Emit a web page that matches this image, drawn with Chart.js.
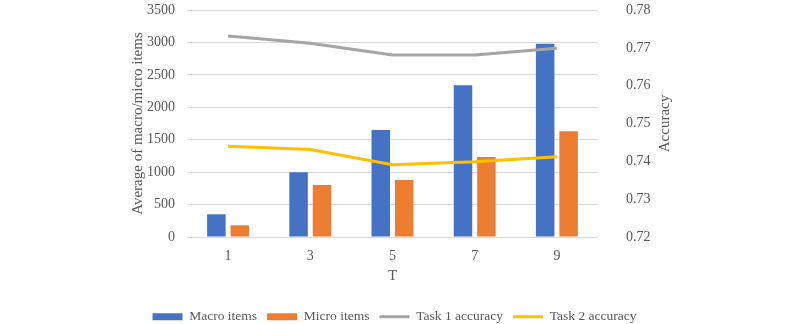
<!DOCTYPE html>
<html>
<head>
<meta charset="utf-8">
<script src="https://cdn.jsdelivr.net/npm/chart.js@4/dist/chart.umd.min.js"></script>
<style>
    html, body { margin: 0; padding: 0; background: #ffffff; }
</style>
</head>
<body>
<canvas id="itemsChart" width="800" height="324"></canvas>
<script>
const categories = ["1", "3", "5", "7", "9"];
const macroItems = [350, 1000, 1650, 2340, 2980];
const microItems = [180, 800, 880, 1235, 1630];
const task1Accuracy = [0.7731, 0.7712, 0.7681, 0.7681, 0.7699];
const task2Accuracy = [0.7440, 0.7431, 0.7391, 0.7399, 0.7412];

const textColor = "#595959";
const serif = "Liberation Serif";

// right axis title reads bottom-to-top in the original, so draw it by hand
const rightTitlePlugin = {
    id: "rightTitle",
    afterDraw(chart, args, options) {
        const { ctx, chartArea } = chart;
        ctx.save();
        ctx.translate(options.x, (chartArea.top + chartArea.bottom) / 2);
        ctx.rotate(-Math.PI / 2);
        ctx.fillStyle = textColor;
        ctx.font = `15px ${serif}`;
        ctx.textAlign = "center";
        ctx.textBaseline = "middle";
        ctx.fillText(options.text, 0, 0);
        ctx.restore();
    }
};

// fixed axis sizes; drop the label overhang padding so the plot keeps its height
const fixWidth = width => scale => {
    scale.width = width;
    scale.paddingTop = 0;
    scale.paddingBottom = 0;
};

new Chart(document.getElementById("itemsChart"), {
    type: "bar",
    data: {
        labels: categories,
        datasets: [
            {
                type: "bar",
                label: "Macro items",
                data: macroItems,
                backgroundColor: "#4472C4",
                yAxisID: "y",
                order: 2,
                categoryPercentage: 0.57,
                barPercentage: 0.79
            },
            {
                type: "bar",
                label: "Micro items",
                data: microItems,
                backgroundColor: "#ED7D31",
                yAxisID: "y",
                order: 2,
                categoryPercentage: 0.57,
                barPercentage: 0.79
            },
            {
                type: "line",
                label: "Task 1 accuracy",
                data: task1Accuracy,
                borderColor: "#A5A5A5",
                backgroundColor: "#A5A5A5",
                borderWidth: 3,
                pointRadius: 0,
                tension: 0,
                yAxisID: "y1",
                order: 1
            },
            {
                type: "line",
                label: "Task 2 accuracy",
                data: task2Accuracy,
                borderColor: "#FFC000",
                backgroundColor: "#FFC000",
                borderWidth: 3,
                pointRadius: 0,
                tension: 0,
                yAxisID: "y1",
                order: 1
            }
        ]
    },
    options: {
        responsive: false,
        animation: false,
        layout: { padding: { left: 118, right: 129, top: 10, bottom: 0 } },
        plugins: {
            tooltip: { enabled: false },
            legend: {
                position: "bottom",
                maxHeight: 24,
                labels: {
                    color: textColor,
                    font: { family: serif, size: 13.5 },
                    usePointStyle: true,
                    pointStyleWidth: 30,
                    boxHeight: 7,
                    padding: 10,
                    generateLabels: chart => chart.data.datasets.map((ds, i) => ({
                        text: ds.label,
                        fillStyle: ds.backgroundColor,
                        strokeStyle: ds.type === "line" ? ds.borderColor : ds.backgroundColor,
                        lineWidth: ds.type === "line" ? 3 : 0,
                        pointStyle: ds.type === "line" ? "line" : "rect",
                        fontColor: textColor,
                        hidden: false,
                        datasetIndex: i
                    }))
                }
            },
            rightTitle: { text: "Accuracy", x: 665 }
        },
        scales: {
            x: {
                grid: { display: false, drawTicks: false },
                border: { display: false },
                ticks: { color: textColor, font: { family: serif, size: 14 }, padding: 11 },
                title: {
                    display: true,
                    text: "T",
                    color: textColor,
                    font: { family: serif, size: 15 },
                    padding: { top: 4, bottom: 15 }
                },
                afterFit: scale => { scale.height = 63; }
            },
            y: {
                position: "left",
                min: 0,
                max: 3500,
                grid: { color: "#D9D9D9", lineWidth: 1, drawTicks: false },
                border: { display: false },
                ticks: {
                    stepSize: 500,
                    color: textColor,
                    font: { family: serif, size: 14 },
                    padding: 12,
                    callback: value => String(value)
                },
                title: {
                    display: true,
                    text: "Average of macro/micro items",
                    color: textColor,
                    font: { family: serif, size: 15 },
                    padding: { top: 11, bottom: 4 }
                },
                afterFit: fixWidth(69)
            },
            y1: {
                position: "right",
                min: 0.72,
                max: 0.78,
                grid: { display: false, drawTicks: false },
                border: { display: false },
                ticks: {
                    stepSize: 0.01,
                    color: textColor,
                    font: { family: serif, size: 14 },
                    padding: 28,
                    callback: value => value.toFixed(2)
                },
                afterFit: fixWidth(73)
            }
        }
    },
    plugins: [rightTitlePlugin]
});
</script>
</body>
</html>
